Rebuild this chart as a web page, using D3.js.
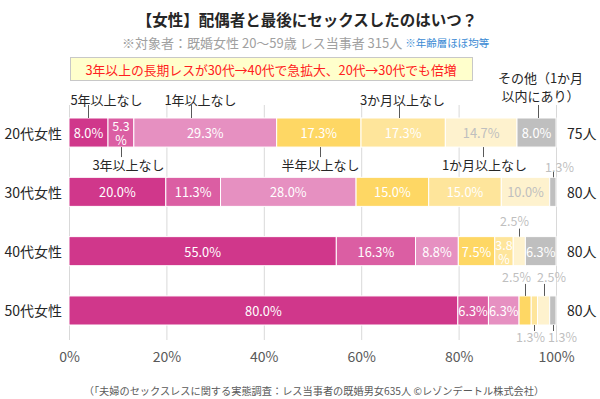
<!DOCTYPE html>
<html>
<head>
<meta charset="utf-8">
<script src="https://cdn.jsdelivr.net/npm/d3@7"></script>
<style>
  body { margin: 0; background: #fff; }
  text { font-family: "Noto Sans CJK JP", "Noto Sans", sans-serif; }
</style>
</head>
<body>
<div id="chart"></div>
<script>
// data
const ages = ['20代女性', '30代女性', '40代女性', '50代女性']
const counts = ['75人', '80人', '80人', '80人']
const categories = ['5年以上なし', '3年以上なし', '1年以上なし', '半年以上なし', '3か月以上なし', '1か月以上なし', 'その他（1か月以内にあり）']
const v20s = [8.0, 5.3, 29.3, 17.3, 17.3, 14.7, 8.0]
const v30s = [20.0, 11.3, 28.0, 15.0, 15.0, 10.0, 1.3]
const v40s = [55.0, 16.3, 8.8, 7.5, 3.8, 2.5, 6.3]
const v50s = [80.0, 6.3, 6.3, 2.5, 1.3, 2.5, 1.3]
const tickValues = [0, 20, 40, 60, 80, 100]

const colors = ['#d0378b', '#db5ea3', '#e690c1', '#fed764', '#fee59b', '#fef2ce', '#bfbfbf']

// set the dimensions of the graph
var width = 600, height = 399

const svg = d3.select('#chart')
  .append('svg')
  .attr('width', width)
  .attr('height', height)

// table for d3.stack, one row per age group
const rows = [v20s, v30s, v40s, v50s].map(function (vals, i) {
  const r = { age: ages[i], count: counts[i] }
  categories.forEach(function (c, j) { r[c] = vals[j] })
  return r
})

const series = d3.stack()
  .keys(categories)
  .offset(d3.stackOffsetExpand)(rows)

const x = d3.scaleLinear()
  .domain([0, 1])
  .range([69, 556])

const y = d3.scaleBand()
  .domain(ages)
  .range([118, 325])
  .paddingInner(0.51)

// title and notes
svg.append('text')
  .attr('x', 307).attr('y', 19)
  .attr('text-anchor', 'middle')
  .attr('dominant-baseline', 'central')
  .style('font-size', '15.5px').style('font-weight', 'bold').attr('fill', '#262626')
  .text('【女性】配偶者と最後にセックスしたのはいつ？')

const sub = svg.append('text')
  .attr('x', 122).attr('y', 42)
  .attr('dominant-baseline', 'central')
  .style('font-size', '13px').attr('fill', '#a0a0a0')
sub.append('tspan').text('※対象者：既婚女性 20～59歳 レス当事者 315人 ')
sub.append('tspan').attr('fill', '#3a8ad4').style('font-size', '10.5px').text('※年齢層ほぼ均等')

svg.append('rect')
  .attr('x', 70.5).attr('y', 57.5)
  .attr('width', 402).attr('height', 23)
  .attr('fill', '#ffffcc').attr('stroke', '#c8c8c8')

svg.append('text')
  .attr('x', 271).attr('y', 69)
  .attr('text-anchor', 'middle')
  .attr('dominant-baseline', 'central')
  .style('font-size', '12.8px').attr('fill', '#ff2020')
  .text('3年以上の長期レスが30代→40代で急拡大、20代→30代でも倍増')

// x axis with vertical gridlines
const xAxis = svg.append('g')
  .attr('transform', 'translate(0,340)')
  .call(d3.axisBottom(x)
    .tickValues(tickValues.map(function (t) { return t / 100 }))
    .tickFormat(function (d) { return Math.round(d * 100) + '%' })
    .tickSize(-235)
    .tickPadding(12))
xAxis.select('.domain').remove()
xAxis.selectAll('line').attr('stroke', '#d9d9d9')
xAxis.selectAll('text')
  .style('font-size', '14px')
  .style('font-family', '"Noto Sans CJK JP", sans-serif')
  .attr('fill', '#595959')

// stacked bars
const layer = svg.selectAll('g.layer')
  .data(series)
  .enter()
  .append('g')
  .attr('class', 'layer')
  .attr('fill', function (d, i) { return colors[i] })

layer.selectAll('rect')
  .data(function (d) { return d })
  .enter()
  .append('rect')
  .attr('x', function (d) { return x(d[0]) })
  .attr('y', function (d) { return y(d.data.age) })
  .attr('width', function (d) { return x(d[1]) - x(d[0]) })
  .attr('height', y.bandwidth())
  .attr('stroke', '#fff')
  .attr('stroke-width', 1)

// value labels inside the segments
layer.each(function (s, i) {
  const g = d3.select(this)
  s.forEach(function (d) {
    const v = d.data[s.key]
    if (v < 3) return
    const cx = (x(d[0]) + x(d[1])) / 2
    const cy = y(d.data.age) + y.bandwidth() / 2
    const fill = i === 5 ? '#bfbfbf' : '#fff'
    if (v < 6) {
      // narrow segment: wrap the number and the % sign
      g.append('text')
        .attr('x', cx).attr('y', cy - 7)
        .attr('text-anchor', 'middle')
        .attr('dominant-baseline', 'central')
        .style('font-size', '12.5px').attr('fill', fill)
        .text(v.toFixed(1))
      g.append('text')
        .attr('x', cx).attr('y', cy + 7)
        .attr('text-anchor', 'middle')
        .attr('dominant-baseline', 'central')
        .style('font-size', '12.5px').attr('fill', fill)
        .text('%')
    } else {
      g.append('text')
        .attr('x', cx).attr('y', cy)
        .attr('text-anchor', 'middle')
        .attr('dominant-baseline', 'central')
        .style('font-size', '12.8px').attr('fill', fill)
        .text(v.toFixed(1) + '%')
    }
  })
})

// small values placed outside the bar with a leader
const smallLabels = [
  { row: 1, cat: 6, side: 'top', dx: 6, ty: 11, ly: 6 },
  { row: 2, cat: 5, side: 'top', dx: -5, ty: 16, ly: 8 },
  { row: 3, cat: 3, side: 'top', dx: -9, ty: 19, ly: 12 },
  { row: 3, cat: 5, side: 'top', dx: 7, ty: 19, ly: 12 },
  { row: 3, cat: 4, side: 'bottom', dx: -4, ty: 11, ly: 6 },
  { row: 3, cat: 6, side: 'bottom', dx: 9, ty: 11, ly: 6 }
]

smallLabels.forEach(function (a) {
  const d = series[a.cat][a.row]
  const lx = Math.round((x(d[0]) + x(d[1])) / 2) + 0.5
  const top = y(ages[a.row]), bottom = top + y.bandwidth()
  const edge = a.side === 'top' ? top : bottom
  const sign = a.side === 'top' ? -1 : 1
  svg.append('line')
    .attr('x1', lx).attr('x2', lx)
    .attr('y1', edge).attr('y2', edge + sign * a.ly)
    .attr('stroke', '#595959')
  svg.append('text')
    .attr('x', lx + a.dx).attr('y', edge + sign * a.ty)
    .attr('text-anchor', 'middle')
    .attr('dominant-baseline', 'central')
    .style('font-size', '12.5px').attr('fill', '#bfbfbf')
    .text(d.data[categories[a.cat]].toFixed(1) + '%')
})

// category names pointing at the 20s bar
const catLabels = [
  { cat: 0, side: 'top', dx: 18, lx: 0 },
  { cat: 2, side: 'top', dx: 9, lx: -14 },
  { cat: 4, side: 'top', dx: 3, lx: -4 },
  { cat: 6, side: 'top', dx: 2, lx: 1 },
  { cat: 1, side: 'bottom', dx: 7, lx: 0 },
  { cat: 3, side: 'bottom', dx: 0, lx: 1 },
  { cat: 5, side: 'bottom', dx: 1, lx: 2 }
]

catLabels.forEach(function (a) {
  const d = series[a.cat][0]
  const lx = Math.round((x(d[0]) + x(d[1])) / 2) + a.lx + 0.5
  const top = y(ages[0]), bottom = top + y.bandwidth()
  const name = categories[a.cat]
  if (a.side === 'top') {
    svg.append('line')
      .attr('x1', lx).attr('x2', lx)
      .attr('y1', top - 13).attr('y2', top)
      .attr('stroke', '#595959')
    const t = svg.append('text')
      .attr('x', lx + a.dx)
      .attr('text-anchor', 'middle')
      .attr('dominant-baseline', 'central')
      .style('font-size', '13px').attr('fill', '#262626')
    if (name.indexOf('（') > 0) {
      const parts = name.split('（')
      t.append('tspan').attr('x', lx + a.dx).attr('y', top - 41).text(parts[0] + '（' + parts[1].slice(0, 3))
      t.append('tspan').attr('x', lx + a.dx).attr('y', top - 23).text(parts[1].slice(3))
    } else {
      t.attr('y', top - 19).text(name)
    }
  } else {
    svg.append('line')
      .attr('x1', lx).attr('x2', lx)
      .attr('y1', bottom).attr('y2', bottom + 10)
      .attr('stroke', '#595959')
    svg.append('text')
      .attr('x', lx + a.dx).attr('y', bottom + 17)
      .attr('text-anchor', 'middle')
      .attr('dominant-baseline', 'central')
      .style('font-size', '13px').attr('fill', '#262626')
      .text(name)
  }
})

// row labels and counts
svg.selectAll('text.age')
  .data(rows)
  .enter()
  .append('text')
  .attr('class', 'age')
  .attr('x', 62)
  .attr('y', function (d) { return y(d.age) + y.bandwidth() / 2 })
  .attr('text-anchor', 'end')
  .attr('dominant-baseline', 'central')
  .style('font-size', '14px').attr('fill', '#262626')
  .text(function (d) { return d.age })

svg.selectAll('text.count')
  .data(rows)
  .enter()
  .append('text')
  .attr('class', 'count')
  .attr('x', 567)
  .attr('y', function (d) { return y(d.age) + y.bandwidth() / 2 })
  .attr('dominant-baseline', 'central')
  .style('font-size', '14px').attr('fill', '#262626')
  .text(function (d) { return d.count })

// source note
svg.append('text')
  .attr('x', 314).attr('y', 390)
  .attr('text-anchor', 'middle')
  .attr('dominant-baseline', 'central')
  .style('font-size', '10.2px').attr('fill', '#595959')
  .text('（「夫婦のセックスレスに関する実態調査：レス当事者の既婚男女635人 ©レゾンデートル株式会社）')
</script>
</body>
</html>
